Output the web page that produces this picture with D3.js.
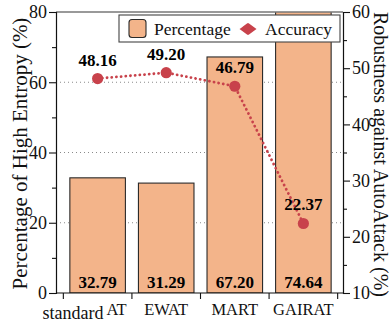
<!DOCTYPE html>
<html><head><meta charset="utf-8">
<script src="https://cdn.jsdelivr.net/npm/d3@7"></script>
<style>body{margin:0;background:#fff}svg{display:block}text{font-family:"Liberation Serif","Times New Roman",serif}</style>
</head><body><svg id="c" width="392" height="325"></svg>
<script>
const categories = ["standard AT", "EWAT", "MART", "GAIRAT"];
const percentageLabels = [32.79, 31.29, 67.20, 74.64];
const barHeights = [32.79, 31.29, 67.20, 84];   // as drawn: last bar runs past the top of the frame
const accuracy = [48.16, 49.20, 46.79, 22.37];
const leftTicks = [0, 20, 40, 60, 80];
const leftMinor = [10, 30, 50, 70];
const rightTicks = [10, 20, 30, 40, 50, 60];
const rightMinor = [15, 25, 35, 45, 55];
const gridTicks = [20, 40, 60];

const W = 392, H = 325;
const m = {l: 56, r: 343, t: 12, b: 293};
const barFill = "#f3b48a", red = "#c8424b";
const svg = d3.select("#c");

const x = d3.scaleBand().domain(categories).range([63, 338]).paddingInner(0.19).paddingOuter(0.1);
const yL = d3.scaleLinear().domain([0, 80]).range([m.b, m.t]);
const yR = d3.scaleLinear().domain([10, 60]).range([m.b, m.t]);

svg.append("defs").append("clipPath").attr("id", "plot")
  .append("rect").attr("x", m.l).attr("y", m.t).attr("width", m.r - m.l).attr("height", m.b - m.t);

// grid
svg.append("g").selectAll("line").data(gridTicks).join("line")
  .attr("x1", m.l).attr("x2", m.r).attr("y1", d => yL(d)).attr("y2", d => yL(d))
  .attr("stroke", "#8a8a8a").attr("stroke-width", 1).attr("stroke-dasharray", "1,3");

// bars
svg.append("g").attr("clip-path", "url(#plot)").selectAll("rect").data(categories).join("rect")
  .attr("x", d => x(d)).attr("width", x.bandwidth())
  .attr("y", (d, i) => yL(barHeights[i])).attr("height", (d, i) => yL(0) - yL(barHeights[i]))
  .attr("fill", barFill).attr("stroke", "#2a2a2a").attr("stroke-width", 1.1);

// bar labels
svg.append("g").selectAll("text").data(categories).join("text")
  .attr("x", d => x(d) + x.bandwidth() / 2).attr("y", m.b - 5)
  .attr("text-anchor", "middle").attr("font-weight", "bold").attr("font-size", 17)
  .text((d, i) => percentageLabels[i].toFixed(2));

// accuracy line
const cx = d => x(d) + x.bandwidth() / 2;
svg.append("path").datum(categories)
  .attr("d", d3.line().x(d => cx(d)).y((d, i) => yR(accuracy[i])))
  .attr("fill", "none").attr("stroke", red).attr("stroke-width", 2.8)
  .attr("stroke-linecap", "round").attr("stroke-dasharray", "0.1,4.6");
svg.append("g").selectAll("circle").data(categories).join("circle")
  .attr("cx", d => cx(d)).attr("cy", (d, i) => yR(accuracy[i])).attr("r", 5.6).attr("fill", red);
svg.append("g").selectAll("text").data(categories).join("text")
  .attr("x", d => cx(d)).attr("y", (d, i) => yR(accuracy[i]) - 13)
  .attr("text-anchor", "middle").attr("font-weight", "bold").attr("font-size", 17)
  .text((d, i) => accuracy[i].toFixed(2));

// frame
svg.append("line").attr("x1", m.l).attr("x2", m.r).attr("y1", m.t).attr("y2", m.t)
  .attr("stroke", "#777").attr("stroke-width", 1.6);

function styleAxis(g) {
  g.select(".domain").attr("stroke", "#111").attr("stroke-width", 1.2);
  g.selectAll(".tick line").attr("stroke", "#111").attr("stroke-width", 1.1);
  g.selectAll("text").attr("font-size", 18).attr("fill", "#111")
    .style("font-family", '"Liberation Serif","Times New Roman",serif');
}
// left axis
svg.append("g").attr("transform", `translate(${m.l},0)`)
  .call(d3.axisLeft(yL).tickValues(leftTicks).tickSize(7).tickPadding(2).tickFormat(d3.format("d")))
  .call(styleAxis);
svg.append("g").attr("transform", `translate(${m.l},0)`)
  .call(d3.axisLeft(yL).tickValues(leftMinor).tickSize(4).tickFormat(""))
  .call(styleAxis).call(g => g.select(".domain").remove());
// right axis
svg.append("g").attr("transform", `translate(${m.r},0)`)
  .call(d3.axisRight(yR).tickValues(rightTicks).tickSize(7).tickPadding(2).tickFormat(d3.format("d")))
  .call(styleAxis);
svg.append("g").attr("transform", `translate(${m.r},0)`)
  .call(d3.axisRight(yR).tickValues(rightMinor).tickSize(4).tickFormat(""))
  .call(styleAxis).call(g => g.select(".domain").remove());
// bottom axis: ticks at category boundaries
const step = x.step(), gap = step - x.bandwidth();
const bounds = categories.map(d => x(d) - gap / 2).concat([x(categories[categories.length - 1]) + x.bandwidth() + gap / 2]);
svg.append("line").attr("x1", m.l).attr("x2", m.r).attr("y1", m.b).attr("y2", m.b)
  .attr("stroke", "#111").attr("stroke-width", 1.2);
svg.append("g").selectAll("line").data(bounds).join("line")
  .attr("x1", d => d).attr("x2", d => d).attr("y1", m.b).attr("y2", m.b + 6)
  .attr("stroke", "#111").attr("stroke-width", 1.1);
const xl = svg.append("g").selectAll("text").data(categories).join("text")
  .attr("y", 315).attr("font-size", 16.5).attr("fill", "#111");
xl.each(function (d) {
  const t = d3.select(this);
  const parts = d.split(" ");
  if (parts.length > 1) {
    t.attr("x", cx(d) + 29).attr("text-anchor", "end");
    t.append("tspan").attr("dy", 4).attr("font-size", 18).text(parts[0]);
    t.append("tspan").attr("dy", -4).attr("dx", 3).text(parts[1]);
  } else {
    t.attr("x", cx(d)).attr("text-anchor", "middle").text(d);
  }
});

// axis titles
svg.append("text").attr("transform", `translate(27,${(m.t + m.b) / 2 + 1}) rotate(-90)`)
  .attr("text-anchor", "middle").attr("font-size", 21).attr("fill", "#111")
  .text("Percentage of High Entropy (%)");
svg.append("text").attr("transform", `translate(374,${(m.t + m.b) / 2 + 2}) rotate(90)`)
  .attr("text-anchor", "middle").attr("font-size", 20).attr("fill", "#111")
  .text("Robustness against AutoAttack (%)");

// legend
const lg = svg.append("g");
lg.append("rect").attr("x", 119).attr("y", 15).attr("width", 221).attr("height", 27)
  .attr("fill", "#fff").attr("stroke", "#444").attr("stroke-width", 1.1);
lg.append("rect").attr("x", 129).attr("y", 19.5).attr("width", 17).attr("height", 18).attr("rx", 3)
  .attr("fill", barFill).attr("stroke", "#2a2a2a").attr("stroke-width", 1.1);
lg.append("text").attr("x", 154).attr("y", 35).attr("font-size", 17.5).attr("fill", "#111").text("Percentage");
lg.append("path").attr("transform", "translate(248,29)")
  .attr("d", "M-8.5,0Q-8.5,0 -1,-5.5Q0,-6.3 1,-5.5L8.5,0L1,5.5Q0,6.3 -1,5.5Z").attr("fill", red);
lg.append("text").attr("x", 265).attr("y", 35).attr("font-size", 17.5).attr("fill", "#111").text("Accuracy");
</script></body></html>
